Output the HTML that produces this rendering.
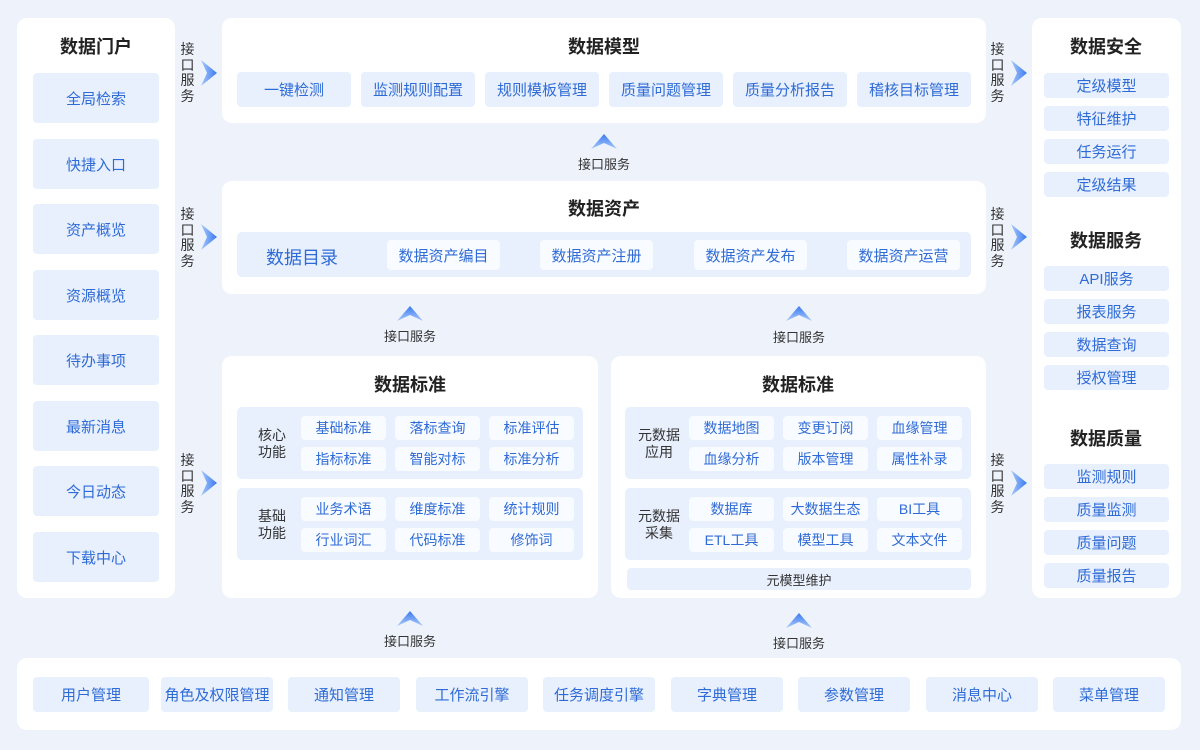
<!DOCTYPE html>
<html><head><meta charset="utf-8"><style>
*{margin:0;padding:0;box-sizing:border-box}
body{width:1200px;height:750px;background:#eef3fb;font-family:"Liberation Sans","Noto Sans CJK SC",sans-serif;position:relative;overflow:hidden}
.p{position:absolute;background:#fff;border-radius:10px}
.t{position:absolute;font-size:18px;font-weight:bold;color:#222;text-align:center;transform:translateX(-50%);white-space:nowrap;line-height:20px}
.c{position:absolute;background:#e8f0fd;border-radius:4px;color:#2f6bd6;font-size:15px;display:flex;align-items:center;justify-content:center;white-space:nowrap}
.w{background:#f8fbff;font-size:14px}
.g{position:absolute;background:#e8f0fd;border-radius:5px}
.l{position:absolute;font-size:14px;color:#333;line-height:15.5px;width:15px;text-align:center}
.s{position:absolute;font-size:13px;color:#333;transform:translateX(-50%);white-space:nowrap}
.gl{position:absolute;font-size:13px;color:#333;line-height:17px;text-align:center}
svg{position:absolute}
</style></head><body>
<svg width="0" height="0"><defs><linearGradient id="gr" x1="0" x2="1"><stop offset="0" stop-color="#a9c8fb"/><stop offset="1" stop-color="#3a7af0"/></linearGradient><linearGradient id="gu" x1="0" y1="1" x2="0" y2="0"><stop offset="0" stop-color="#a9c8fb"/><stop offset="1" stop-color="#3a7af0"/></linearGradient></defs></svg>

<div class="p" style="left:17px;top:18px;width:158px;height:580px"></div>
<div class="t" style="left:96px;top:37px">数据门户</div>
<div class="c" style="left:33px;top:73px;width:126px;height:50px">全局检索</div>
<div class="c" style="left:33px;top:139px;width:126px;height:50px">快捷入口</div>
<div class="c" style="left:33px;top:204px;width:126px;height:50px">资产概览</div>
<div class="c" style="left:33px;top:270px;width:126px;height:50px">资源概览</div>
<div class="c" style="left:33px;top:335px;width:126px;height:50px">待办事项</div>
<div class="c" style="left:33px;top:401px;width:126px;height:50px">最新消息</div>
<div class="c" style="left:33px;top:466px;width:126px;height:50px">今日动态</div>
<div class="c" style="left:33px;top:532px;width:126px;height:50px">下载中心</div>

<div class="l" style="left:180px;top:42px">接口服务</div>
<div class="l" style="left:180px;top:207px">接口服务</div>
<div class="l" style="left:180px;top:453px">接口服务</div>
<div class="l" style="left:990px;top:42px">接口服务</div>
<div class="l" style="left:990px;top:207px">接口服务</div>
<div class="l" style="left:990px;top:453px">接口服务</div>
<svg style="left:199px;top:59px" width="20" height="28"><path d="M2 1 L18 14 L2 27 L8 14Z" fill="url(#gr)"/></svg>
<svg style="left:199px;top:223px" width="20" height="28"><path d="M2 1 L18 14 L2 27 L8 14Z" fill="url(#gr)"/></svg>
<svg style="left:199px;top:469px" width="20" height="28"><path d="M2 1 L18 14 L2 27 L8 14Z" fill="url(#gr)"/></svg>
<svg style="left:1009px;top:59px" width="20" height="28"><path d="M2 1 L18 14 L2 27 L8 14Z" fill="url(#gr)"/></svg>
<svg style="left:1009px;top:223px" width="20" height="28"><path d="M2 1 L18 14 L2 27 L8 14Z" fill="url(#gr)"/></svg>
<svg style="left:1009px;top:469px" width="20" height="28"><path d="M2 1 L18 14 L2 27 L8 14Z" fill="url(#gr)"/></svg>

<div class="p" style="left:222px;top:18px;width:764px;height:105px"></div>
<div class="t" style="left:604px;top:37px">数据模型</div>
<div class="c" style="left:237px;top:72px;width:114px;height:35px">一键检测</div>
<div class="c" style="left:361px;top:72px;width:114px;height:35px">监测规则配置</div>
<div class="c" style="left:485px;top:72px;width:114px;height:35px">规则模板管理</div>
<div class="c" style="left:609px;top:72px;width:114px;height:35px">质量问题管理</div>
<div class="c" style="left:733px;top:72px;width:114px;height:35px">质量分析报告</div>
<div class="c" style="left:857px;top:72px;width:114px;height:35px">稽核目标管理</div>

<svg style="left:590px;top:133px" width="28" height="18"><path d="M1 16 L14 1 L27 16 L14 10Z" fill="url(#gu)"/></svg>
<div class="s" style="left:604px;top:154px">接口服务</div>
<svg style="left:396px;top:305px" width="28" height="18"><path d="M1 16 L14 1 L27 16 L14 10Z" fill="url(#gu)"/></svg>
<div class="s" style="left:410px;top:326px">接口服务</div>
<svg style="left:785px;top:305px" width="28" height="18"><path d="M1 16 L14 1 L27 16 L14 10Z" fill="url(#gu)"/></svg>
<div class="s" style="left:799px;top:327px">接口服务</div>
<svg style="left:396px;top:610px" width="28" height="18"><path d="M1 16 L14 1 L27 16 L14 10Z" fill="url(#gu)"/></svg>
<div class="s" style="left:410px;top:631px">接口服务</div>
<svg style="left:785px;top:612px" width="28" height="18"><path d="M1 16 L14 1 L27 16 L14 10Z" fill="url(#gu)"/></svg>
<div class="s" style="left:799px;top:633px">接口服务</div>

<div class="p" style="left:222px;top:181px;width:764px;height:113px"></div>
<div class="t" style="left:604px;top:199px">数据资产</div>
<div class="g" style="left:237px;top:232px;width:734px;height:45px"></div>
<div style="position:absolute;left:266px;top:244px;font-size:18px;color:#2f6bd6">数据目录</div>
<div class="c w" style="left:387px;top:240px;width:113px;height:30px;font-size:15px">数据资产编目</div>
<div class="c w" style="left:540px;top:240px;width:113px;height:30px;font-size:15px">数据资产注册</div>
<div class="c w" style="left:694px;top:240px;width:113px;height:30px;font-size:15px">数据资产发布</div>
<div class="c w" style="left:847px;top:240px;width:113px;height:30px;font-size:15px">数据资产运营</div>

<div class="p" style="left:222px;top:356px;width:376px;height:242px"></div>
<div class="t" style="left:410px;top:375px">数据标准</div>
<div class="g" style="left:237px;top:407px;width:346px;height:72px"></div>
<div class="g" style="left:237px;top:488px;width:346px;height:72px"></div>
<div class="gl" style="left:250px;top:427px;width:44px;font-size:14px">核心<br>功能</div>
<div class="gl" style="left:250px;top:508px;width:44px;font-size:14px">基础<br>功能</div>
<div class="c w" style="left:301px;top:416px;width:85px;height:24px">基础标准</div>
<div class="c w" style="left:395px;top:416px;width:85px;height:24px">落标查询</div>
<div class="c w" style="left:489px;top:416px;width:85px;height:24px">标准评估</div>
<div class="c w" style="left:301px;top:447px;width:85px;height:24px">指标标准</div>
<div class="c w" style="left:395px;top:447px;width:85px;height:24px">智能对标</div>
<div class="c w" style="left:489px;top:447px;width:85px;height:24px">标准分析</div>
<div class="c w" style="left:301px;top:497px;width:85px;height:24px">业务术语</div>
<div class="c w" style="left:395px;top:497px;width:85px;height:24px">维度标准</div>
<div class="c w" style="left:489px;top:497px;width:85px;height:24px">统计规则</div>
<div class="c w" style="left:301px;top:528px;width:85px;height:24px">行业词汇</div>
<div class="c w" style="left:395px;top:528px;width:85px;height:24px">代码标准</div>
<div class="c w" style="left:489px;top:528px;width:85px;height:24px">修饰词</div>

<div class="p" style="left:611px;top:356px;width:375px;height:242px"></div>
<div class="t" style="left:798px;top:375px">数据标准</div>
<div class="g" style="left:625px;top:407px;width:346px;height:72px"></div>
<div class="g" style="left:625px;top:488px;width:346px;height:72px"></div>
<div class="gl" style="left:633px;top:427px;width:52px;font-size:14px">元数据<br>应用</div>
<div class="gl" style="left:633px;top:508px;width:52px;font-size:14px">元数据<br>采集</div>
<div class="c w" style="left:689px;top:416px;width:85px;height:24px">数据地图</div>
<div class="c w" style="left:783px;top:416px;width:85px;height:24px">变更订阅</div>
<div class="c w" style="left:877px;top:416px;width:85px;height:24px">血缘管理</div>
<div class="c w" style="left:689px;top:447px;width:85px;height:24px">血缘分析</div>
<div class="c w" style="left:783px;top:447px;width:85px;height:24px">版本管理</div>
<div class="c w" style="left:877px;top:447px;width:85px;height:24px">属性补录</div>
<div class="c w" style="left:689px;top:497px;width:85px;height:24px">数据库</div>
<div class="c w" style="left:783px;top:497px;width:85px;height:24px">大数据生态</div>
<div class="c w" style="left:877px;top:497px;width:85px;height:24px">BI工具</div>
<div class="c w" style="left:689px;top:528px;width:85px;height:24px">ETL工具</div>
<div class="c w" style="left:783px;top:528px;width:85px;height:24px">模型工具</div>
<div class="c w" style="left:877px;top:528px;width:85px;height:24px">文本文件</div>
<div class="c" style="left:627px;top:568px;width:344px;height:22px;font-size:13px;color:#333">元模型维护</div>

<div class="p" style="left:1032px;top:18px;width:149px;height:580px"></div>
<div class="t" style="left:1106px;top:37px">数据安全</div>
<div class="c" style="left:1044px;top:73px;width:125px;height:25px">定级模型</div>
<div class="c" style="left:1044px;top:106px;width:125px;height:25px">特征维护</div>
<div class="c" style="left:1044px;top:139px;width:125px;height:25px">任务运行</div>
<div class="c" style="left:1044px;top:172px;width:125px;height:25px">定级结果</div>
<div class="t" style="left:1106px;top:231px">数据服务</div>
<div class="c" style="left:1044px;top:266px;width:125px;height:25px">API服务</div>
<div class="c" style="left:1044px;top:299px;width:125px;height:25px">报表服务</div>
<div class="c" style="left:1044px;top:332px;width:125px;height:25px">数据查询</div>
<div class="c" style="left:1044px;top:365px;width:125px;height:25px">授权管理</div>
<div class="t" style="left:1106px;top:429px">数据质量</div>
<div class="c" style="left:1044px;top:464px;width:125px;height:25px">监测规则</div>
<div class="c" style="left:1044px;top:497px;width:125px;height:25px">质量监测</div>
<div class="c" style="left:1044px;top:530px;width:125px;height:25px">质量问题</div>
<div class="c" style="left:1044px;top:563px;width:125px;height:25px">质量报告</div>

<div class="p" style="left:17px;top:658px;width:1164px;height:72px"></div>
<div class="c" style="left:33px;top:677px;width:116px;height:35px">用户管理</div>
<div class="c" style="left:161px;top:677px;width:112px;height:35px">角色及权限管理</div>
<div class="c" style="left:288px;top:677px;width:112px;height:35px">通知管理</div>
<div class="c" style="left:416px;top:677px;width:112px;height:35px">工作流引擎</div>
<div class="c" style="left:543px;top:677px;width:112px;height:35px">任务调度引擎</div>
<div class="c" style="left:671px;top:677px;width:112px;height:35px">字典管理</div>
<div class="c" style="left:798px;top:677px;width:112px;height:35px">参数管理</div>
<div class="c" style="left:926px;top:677px;width:112px;height:35px">消息中心</div>
<div class="c" style="left:1053px;top:677px;width:112px;height:35px">菜单管理</div>
</body></html>
